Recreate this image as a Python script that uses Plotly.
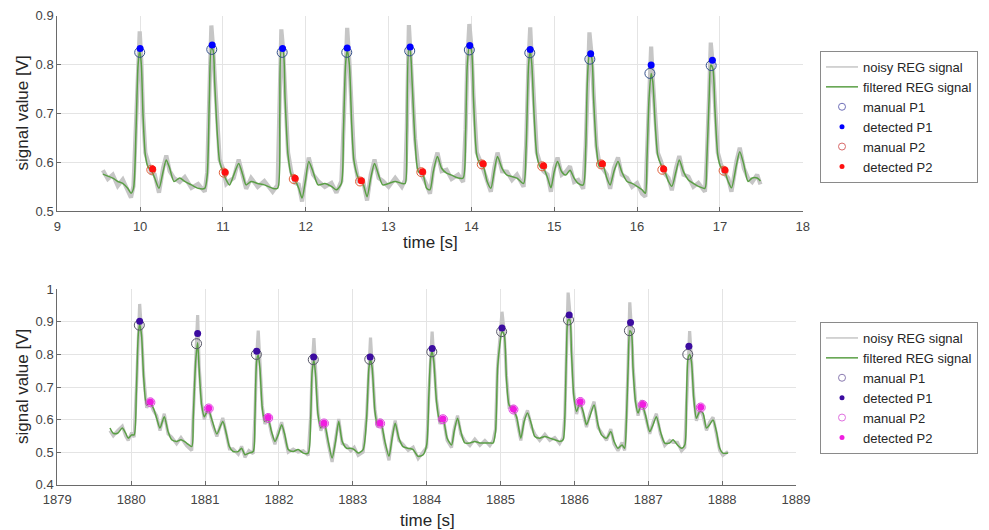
import plotly.graph_objects as go

# ---------------- top panel data ----------------
top_t = [
    9.55, 9.61, 9.67, 9.73, 9.79, 9.85, 9.89, 9.92,
    9.95, 9.975, 9.995, 10.015, 10.035, 10.063, 10.095, 10.135, 10.176, 10.228, 10.277, 10.316, 10.357, 10.409, 10.478, 10.539, 10.619, 10.70, 10.78,
    10.81, 10.836, 10.86, 10.88, 10.90, 10.93, 10.96, 11.00, 11.04, 11.08, 11.13, 11.19, 11.24, 11.28, 11.34, 11.42, 11.50, 11.60, 11.66,
    11.686, 11.705, 11.726, 11.75, 11.786, 11.826, 11.87, 11.915, 11.955, 11.995, 12.036, 12.088, 12.149, 12.23, 12.31, 12.37, 12.43,
    12.455, 12.48, 12.50, 12.527, 12.555, 12.583, 12.635, 12.69, 12.74, 12.785, 12.83, 12.88, 12.93, 13.00, 13.08, 13.16, 13.20,
    13.22, 13.245, 13.26, 13.284, 13.32, 13.36, 13.41, 13.46, 13.50, 13.54, 13.59, 13.64, 13.70, 13.76, 13.84, 13.90,
    13.93, 13.95, 13.975, 14.00, 14.025, 14.065, 14.11, 14.145, 14.19, 14.235, 14.275, 14.315, 14.37, 14.43, 14.49, 14.55, 14.63,
    14.66, 14.69, 14.71, 14.73, 14.757, 14.79, 14.83, 14.87, 14.92, 14.96, 15.00, 15.04, 15.09, 15.14, 15.19, 15.24, 15.29, 15.35,
    15.38, 15.40, 15.425, 15.45, 15.475, 15.51, 15.545, 15.585, 15.635, 15.675, 15.72, 15.77, 15.815, 15.88, 15.94, 16.00, 16.06, 16.10,
    16.12, 16.145, 16.17, 16.19, 16.22, 16.25, 16.29, 16.33, 16.38, 16.42, 16.47, 16.51, 16.56, 16.62, 16.68, 16.74, 16.82,
    16.84, 16.87, 16.89, 16.915, 16.94, 16.975, 17.01, 17.05, 17.10, 17.14, 17.20, 17.24, 17.29, 17.34, 17.39, 17.45, 17.49,
]
top_filtered = [
    0.576, 0.572, 0.568, 0.561, 0.557, 0.547, 0.537, 0.547,
    0.663, 0.799, 0.830, 0.799, 0.697, 0.615, 0.591, 0.584, 0.568, 0.547, 0.581, 0.605, 0.588, 0.561, 0.568, 0.561, 0.554, 0.547, 0.547,
    0.574, 0.731, 0.833, 0.830, 0.765, 0.663, 0.602, 0.581, 0.564, 0.554, 0.574, 0.598, 0.574, 0.554, 0.561, 0.557, 0.554, 0.547, 0.547,
    0.697, 0.830, 0.828, 0.731, 0.615, 0.574, 0.564, 0.547, 0.527, 0.561, 0.602, 0.581, 0.554, 0.557, 0.551, 0.544, 0.557,
    0.663, 0.799, 0.830, 0.799, 0.676, 0.602, 0.568, 0.557, 0.530, 0.568, 0.598, 0.574, 0.554, 0.557, 0.561, 0.557, 0.557,
    0.663, 0.833, 0.830, 0.765, 0.642, 0.581, 0.578, 0.547, 0.544, 0.581, 0.612, 0.588, 0.578, 0.574, 0.568, 0.568,
    0.663, 0.799, 0.837, 0.830, 0.731, 0.615, 0.595, 0.591, 0.561, 0.547, 0.581, 0.612, 0.588, 0.574, 0.571, 0.568, 0.557,
    0.629, 0.799, 0.830, 0.799, 0.697, 0.615, 0.591, 0.588, 0.568, 0.548, 0.581, 0.602, 0.581, 0.574, 0.584, 0.568, 0.557, 0.554,
    0.629, 0.765, 0.820, 0.816, 0.731, 0.629, 0.591, 0.595, 0.568, 0.554, 0.581, 0.602, 0.581, 0.561, 0.557, 0.551, 0.544, 0.537,
    0.608, 0.731, 0.782, 0.765, 0.676, 0.615, 0.595, 0.584, 0.561, 0.551, 0.581, 0.605, 0.581, 0.564, 0.557, 0.551, 0.547,
    0.595, 0.731, 0.799, 0.792, 0.710, 0.615, 0.591, 0.584, 0.561, 0.548, 0.595, 0.622, 0.595, 0.561, 0.568, 0.568, 0.562,
]
top_noisy = [
    0.584, 0.566, 0.575, 0.552, 0.565, 0.540, 0.528, 0.552,
    0.670, 0.812, 0.868, 0.805, 0.700, 0.620, 0.598, 0.578, 0.575, 0.538, 0.588, 0.614, 0.582, 0.568, 0.560, 0.570, 0.548, 0.556, 0.540,
    0.580, 0.740, 0.880, 0.836, 0.770, 0.668, 0.606, 0.588, 0.556, 0.562, 0.568, 0.606, 0.568, 0.546, 0.568, 0.550, 0.562, 0.540, 0.554,
    0.702, 0.872, 0.832, 0.736, 0.620, 0.580, 0.558, 0.555, 0.520, 0.568, 0.610, 0.575, 0.562, 0.550, 0.558, 0.538, 0.562,
    0.668, 0.805, 0.875, 0.804, 0.680, 0.608, 0.562, 0.564, 0.522, 0.575, 0.606, 0.568, 0.562, 0.550, 0.568, 0.550, 0.564,
    0.668, 0.881, 0.836, 0.770, 0.648, 0.588, 0.572, 0.554, 0.536, 0.588, 0.620, 0.582, 0.585, 0.566, 0.575, 0.560,
    0.668, 0.805, 0.883, 0.836, 0.736, 0.620, 0.602, 0.585, 0.568, 0.540, 0.588, 0.620, 0.582, 0.581, 0.564, 0.575, 0.550,
    0.634, 0.805, 0.876, 0.805, 0.702, 0.620, 0.598, 0.582, 0.575, 0.540, 0.588, 0.610, 0.575, 0.581, 0.592, 0.560, 0.564, 0.546,
    0.634, 0.770, 0.866, 0.822, 0.736, 0.634, 0.598, 0.589, 0.575, 0.546, 0.588, 0.610, 0.575, 0.568, 0.550, 0.558, 0.536, 0.530,
    0.614, 0.736, 0.837, 0.770, 0.680, 0.620, 0.602, 0.578, 0.568, 0.543, 0.588, 0.613, 0.575, 0.571, 0.550, 0.558, 0.540,
    0.600, 0.736, 0.845, 0.798, 0.715, 0.620, 0.598, 0.578, 0.568, 0.540, 0.602, 0.630, 0.588, 0.568, 0.560, 0.575, 0.555,
]
top_p1_t = [10.0, 10.87, 11.72, 12.50, 13.26, 13.98, 14.71, 15.44, 16.17, 16.91]
top_p1_detected = [0.833, 0.840, 0.833, 0.834, 0.836, 0.839, 0.831, 0.822, 0.799, 0.809]
top_p1_manual_t = [9.995, 10.865, 11.715, 12.495, 13.255, 13.975, 14.705, 15.43, 16.155, 16.895]
top_p1_manual = [0.825, 0.831, 0.825, 0.825, 0.828, 0.830, 0.824, 0.811, 0.782, 0.798]
top_p2_t = [10.15, 11.025, 11.87, 12.67, 13.41, 14.14, 14.87, 15.58, 16.32, 17.06]
top_p2_detected = [0.5865, 0.580, 0.5675, 0.5626, 0.581, 0.597, 0.593, 0.597, 0.5865, 0.5845]
top_p2_manual_t = [10.135, 11.01, 11.855, 12.655, 13.395, 14.125, 14.855, 15.565, 16.305, 17.045]
top_p2_manual = [0.585, 0.579, 0.566, 0.561, 0.580, 0.596, 0.592, 0.596, 0.585, 0.583]

# ---------------- bottom panel data ----------------
bot_t = [
    1879.713, 1879.758, 1879.817, 1879.88, 1879.925, 1879.96, 1880.007, 1880.04,
    1880.07, 1880.096, 1880.115, 1880.14, 1880.17, 1880.21, 1880.254, 1880.30, 1880.345, 1880.39, 1880.448, 1880.50, 1880.548, 1880.615, 1880.674, 1880.75, 1880.82,
    1880.84, 1880.873, 1880.90, 1880.92, 1880.954, 1880.99, 1881.043, 1881.10, 1881.16, 1881.24, 1881.29, 1881.33, 1881.38, 1881.45, 1881.495, 1881.54, 1881.594, 1881.652,
    1881.675, 1881.698, 1881.72, 1881.743, 1881.775, 1881.81, 1881.855, 1881.90, 1881.946, 1881.99, 1882.037, 1882.08, 1882.126, 1882.193, 1882.26, 1882.33, 1882.396,
    1882.43, 1882.45, 1882.474, 1882.496, 1882.53, 1882.568, 1882.613, 1882.667, 1882.72, 1882.767, 1882.81, 1882.857, 1882.916, 1882.974, 1883.02, 1883.073, 1883.14,
    1883.187, 1883.218, 1883.24, 1883.263, 1883.30, 1883.335, 1883.376, 1883.434, 1883.49, 1883.533, 1883.574, 1883.624, 1883.68, 1883.75, 1883.817, 1883.885, 1883.953, 1884.0,
    1884.03, 1884.053, 1884.074, 1884.097, 1884.134, 1884.18, 1884.223, 1884.277, 1884.337, 1884.372, 1884.418, 1884.463, 1884.517, 1884.585, 1884.652, 1884.72, 1884.788, 1884.855, 1884.9,
    1884.932, 1884.96, 1884.99, 1885.02, 1885.05, 1885.08, 1885.116, 1885.17, 1885.217, 1885.275, 1885.32, 1885.365, 1885.42, 1885.464, 1885.53, 1885.60, 1885.667, 1885.735, 1885.80, 1885.847,
    1885.87, 1885.893, 1885.915, 1885.938, 1885.96, 1885.992, 1886.03, 1886.073, 1886.118, 1886.164, 1886.208, 1886.267, 1886.32, 1886.367, 1886.434, 1886.493, 1886.537, 1886.59, 1886.645, 1886.68,
    1886.705, 1886.727, 1886.75, 1886.773, 1886.794, 1886.827, 1886.862, 1886.908, 1886.962, 1887.02, 1887.065, 1887.11, 1887.165, 1887.223, 1887.29, 1887.335, 1887.395, 1887.45, 1887.494,
    1887.517, 1887.538, 1887.56, 1887.585, 1887.616, 1887.652, 1887.697, 1887.74, 1887.788, 1887.83, 1887.877, 1887.923, 1887.967, 1888.01, 1888.08,
]
bot_filtered = [
    0.574, 0.558, 0.558, 0.574, 0.558, 0.543, 0.553, 0.553,
    0.686, 0.860, 0.893, 0.860, 0.727, 0.645, 0.650, 0.635, 0.604, 0.574, 0.609, 0.563, 0.538, 0.533, 0.538, 0.528, 0.517,
    0.604, 0.778, 0.836, 0.757, 0.645, 0.609, 0.630, 0.594, 0.556, 0.594, 0.555, 0.517, 0.502, 0.502, 0.512, 0.492, 0.497, 0.502,
    0.604, 0.778, 0.798, 0.757, 0.635, 0.594, 0.599, 0.563, 0.533, 0.553, 0.584, 0.553, 0.508, 0.502, 0.508, 0.497, 0.497,
    0.604, 0.747, 0.783, 0.737, 0.614, 0.574, 0.589, 0.533, 0.482, 0.533, 0.594, 0.533, 0.512, 0.512, 0.508, 0.497, 0.508,
    0.604, 0.757, 0.786, 0.757, 0.625, 0.584, 0.594, 0.533, 0.487, 0.543, 0.589, 0.543, 0.517, 0.512, 0.508, 0.487, 0.492, 0.522,
    0.674, 0.788, 0.810, 0.778, 0.655, 0.594, 0.599, 0.543, 0.522, 0.563, 0.604, 0.563, 0.528, 0.528, 0.533, 0.528, 0.528, 0.528, 0.528,
    0.563, 0.757, 0.829, 0.870, 0.860, 0.727, 0.645, 0.630, 0.609, 0.543, 0.594, 0.620, 0.584, 0.548, 0.543, 0.548, 0.543, 0.538, 0.533, 0.538,
    0.604, 0.808, 0.906, 0.906, 0.808, 0.674, 0.625, 0.650, 0.625, 0.584, 0.609, 0.645, 0.584, 0.553, 0.543, 0.563, 0.533, 0.512, 0.522, 0.512,
    0.604, 0.757, 0.873, 0.865, 0.757, 0.655, 0.620, 0.650, 0.614, 0.563, 0.584, 0.609, 0.563, 0.528, 0.528, 0.538, 0.522, 0.512, 0.522,
    0.655, 0.788, 0.800, 0.778, 0.665, 0.604, 0.625, 0.620, 0.574, 0.584, 0.599, 0.563, 0.512, 0.497, 0.497,
]
bot_noisy = [
    0.566, 0.550, 0.566, 0.580, 0.550, 0.536, 0.560, 0.546,
    0.690, 0.880, 0.955, 0.870, 0.732, 0.636, 0.658, 0.628, 0.612, 0.566, 0.618, 0.556, 0.546, 0.526, 0.545, 0.520, 0.505,
    0.610, 0.790, 0.921, 0.765, 0.650, 0.600, 0.640, 0.586, 0.548, 0.605, 0.548, 0.510, 0.510, 0.494, 0.518, 0.484, 0.505, 0.495,
    0.610, 0.790, 0.873, 0.765, 0.642, 0.586, 0.606, 0.556, 0.524, 0.560, 0.592, 0.546, 0.500, 0.509, 0.500, 0.504, 0.490,
    0.610, 0.760, 0.850, 0.745, 0.620, 0.566, 0.596, 0.526, 0.470, 0.540, 0.602, 0.526, 0.520, 0.504, 0.515, 0.490, 0.500,
    0.610, 0.770, 0.852, 0.765, 0.632, 0.576, 0.602, 0.526, 0.475, 0.550, 0.597, 0.536, 0.524, 0.505, 0.515, 0.480, 0.499, 0.515,
    0.680, 0.800, 0.870, 0.785, 0.660, 0.586, 0.607, 0.536, 0.514, 0.570, 0.612, 0.556, 0.535, 0.520, 0.540, 0.521, 0.536, 0.520, 0.535,
    0.570, 0.765, 0.845, 0.931, 0.868, 0.734, 0.638, 0.640, 0.602, 0.536, 0.602, 0.628, 0.577, 0.555, 0.536, 0.555, 0.536, 0.545, 0.526, 0.545,
    0.610, 0.820, 0.990, 0.930, 0.815, 0.680, 0.617, 0.660, 0.618, 0.577, 0.617, 0.655, 0.576, 0.560, 0.536, 0.571, 0.525, 0.504, 0.530, 0.505,
    0.610, 0.770, 0.960, 0.875, 0.765, 0.662, 0.612, 0.660, 0.607, 0.556, 0.592, 0.618, 0.556, 0.520, 0.536, 0.530, 0.530, 0.504, 0.515,
    0.660, 0.800, 0.872, 0.785, 0.672, 0.596, 0.633, 0.612, 0.567, 0.592, 0.607, 0.556, 0.505, 0.490, 0.502,
]
bot_p1_t = [1880.115, 1880.90, 1881.70, 1882.47, 1883.235, 1884.075, 1885.02, 1885.93, 1886.76, 1887.55]
bot_p1_detected = [0.902, 0.864, 0.810, 0.792, 0.792, 0.818, 0.881, 0.921, 0.898, 0.825]
bot_p1_manual_t = [1880.11, 1880.885, 1881.695, 1882.465, 1883.23, 1884.07, 1885.015, 1885.92, 1886.745, 1887.535]
bot_p1_manual = [0.890, 0.833, 0.800, 0.784, 0.785, 0.808, 0.870, 0.906, 0.873, 0.800]
bot_p2_t = [1880.26, 1881.05, 1881.855, 1882.61, 1883.37, 1884.22, 1885.175, 1886.08, 1886.925, 1887.71]
bot_p2_detected = [0.654, 0.635, 0.606, 0.589, 0.589, 0.602, 0.632, 0.655, 0.646, 0.638]
bot_p2_manual = [0.653, 0.634, 0.605, 0.588, 0.588, 0.601, 0.631, 0.654, 0.645, 0.637]

top_xticks = [9, 10, 11, 12, 13, 14, 15, 16, 17, 18]
top_yticks = [0.5, 0.6, 0.7, 0.8, 0.9]
top_ytick_labels = ["0.5", "0.6", "0.7", "0.8", "0.9"]
bot_xticks = [1879, 1880, 1881, 1882, 1883, 1884, 1885, 1886, 1887, 1888, 1889]
bot_yticks = [0.4, 0.5, 0.6, 0.7, 0.8, 0.9, 1.0]
bot_ytick_labels = ["0.4", "0.5", "0.6", "0.7", "0.8", "0.9", "1"]

# page body has an 8px margin: the figure is sized to fill the rest of the window
OFF = 8
W, H = 989 - OFF, 530 - OFF


def fx(px):
    return (px - OFF) / W


def fy(py):
    return 1 - (py - OFF) / H


NOISY = "#c6c6c6"
GREEN = "#5a9f45"
FONT = "Liberation Sans, Arial, Helvetica, sans-serif"

fig = go.Figure()


def add_panel(xa, ya, leg, t, noisy, filt, noisy_w, p1_mt, p1_m, p1_t, p1_d, p2_mt, p2_m, p2_t, p2_d,
              c_p1m, c_p1d, c_p2m, c_p2d, c_p1m_leg, c_p2m_leg):
    fig.add_trace(go.Scatter(x=t, y=noisy, mode="lines", line=dict(color=NOISY, width=noisy_w),
                             xaxis=xa, yaxis=ya, showlegend=False, hoverinfo="skip"))
    fig.add_trace(go.Scatter(x=t, y=filt, mode="lines",
                             line=dict(color=GREEN, width=1.5, shape="spline", smoothing=0.7),
                             xaxis=xa, yaxis=ya, showlegend=False))
    fig.add_trace(go.Scatter(x=p2_mt, y=p2_m, mode="markers",
                             marker=dict(symbol="circle-open", size=9, color=c_p2m, line=dict(width=1)),
                             xaxis=xa, yaxis=ya, showlegend=False))
    fig.add_trace(go.Scatter(x=p2_t, y=p2_d, mode="markers",
                             marker=dict(symbol="circle", size=7, color=c_p2d),
                             xaxis=xa, yaxis=ya, showlegend=False))
    fig.add_trace(go.Scatter(x=p1_mt, y=p1_m, mode="markers",
                             marker=dict(symbol="circle-open", size=10, color=c_p1m, line=dict(width=1)),
                             xaxis=xa, yaxis=ya, showlegend=False))
    fig.add_trace(go.Scatter(x=p1_t, y=p1_d, mode="markers",
                             marker=dict(symbol="circle", size=7, color=c_p1d),
                             xaxis=xa, yaxis=ya, showlegend=False))
    entries = [
        ("noisy REG signal", dict(mode="lines", line=dict(color=NOISY, width=1.5))),
        ("filtered REG signal", dict(mode="lines", line=dict(color=GREEN, width=1.5))),
        ("manual P1", dict(mode="markers", marker=dict(symbol="circle-open", size=7, color=c_p1m_leg, line=dict(width=1)))),
        ("detected P1", dict(mode="markers", marker=dict(symbol="circle", size=5, color=c_p1d))),
        ("manual P2", dict(mode="markers", marker=dict(symbol="circle-open", size=7, color=c_p2m_leg, line=dict(width=1)))),
        ("detected P2", dict(mode="markers", marker=dict(symbol="circle", size=5, color=c_p2d))),
    ]
    for name, kw in entries:
        fig.add_trace(go.Scatter(x=[None], y=[None], name=name, xaxis=xa, yaxis=ya,
                                 legend=leg, showlegend=True, **kw))


add_panel("x", "y", "legend", top_t, top_noisy, top_filtered, 4.2,
          top_p1_manual_t, top_p1_manual, top_p1_t, top_p1_detected,
          top_p2_manual_t, top_p2_manual, top_p2_t, top_p2_detected,
          "#34508a", "#0000ff", "#e0603a", "#ff1010", "#6f6fb8", "#d86a6a")
add_panel("x2", "y2", "legend2", bot_t, bot_noisy, bot_filtered, 3.2,
          bot_p1_manual_t, bot_p1_manual, bot_p1_t, bot_p1_detected,
          bot_p2_t, bot_p2_manual, bot_p2_t, bot_p2_detected,
          "#555566", "#3c0ca0", "#e040e0", "#f01ee0", "#8a7ab0", "#e070e0")

axis_common = dict(showgrid=True, gridcolor="#e4e4e4", gridwidth=1, zeroline=False,
                   showline=True, linecolor="#6a6a6a", linewidth=1,
                   ticks="inside", ticklen=4, tickcolor="#6a6a6a",
                   tickfont=dict(family=FONT, size=13, color="#444444"))

legend_common = dict(xanchor="left", yanchor="top", bgcolor="white",
                     bordercolor="#8a8a8a", borderwidth=1, itemwidth=32,
                     font=dict(family=FONT, size=13, color="#262626"), tracegroupgap=0)

fig.update_layout(
    width=W, height=H,
    margin=dict(l=0, r=0, t=0, b=0, autoexpand=False),
    paper_bgcolor="white", plot_bgcolor="white",
    font=dict(family=FONT, color="#262626"),
    xaxis=dict(domain=[fx(57.3), fx(802.7)], range=[9, 18], tickvals=top_xticks,
               anchor="y", ticklabelstandoff=3, **axis_common),
    yaxis=dict(domain=[fy(211.3), fy(15.7)], range=[0.5, 0.9], tickvals=top_yticks,
               ticktext=top_ytick_labels, anchor="x", **axis_common),
    xaxis2=dict(domain=[fx(57.3), fx(796)], range=[1879, 1889], tickvals=bot_xticks,
                anchor="y2", ticklabelstandoff=3, **axis_common),
    yaxis2=dict(domain=[fy(484.7), fy(289.3)], range=[0.4, 1.0], tickvals=bot_yticks,
                ticktext=bot_ytick_labels, anchor="x2", **axis_common),
    legend=dict(x=fx(820), y=fy(51), **legend_common),
    legend2=dict(x=fx(820), y=fy(322), **legend_common),
    showlegend=True,
)

annots = [
    dict(text="time [s]", x=fx(430), y=fy(242)),
    dict(text="time [s]", x=fx(427), y=fy(520)),
    dict(text="signal value [V]", x=fx(22), y=fy(113.5), textangle=-90),
    dict(text="signal value [V]", x=fx(22), y=fy(387), textangle=-90),
]
for a in annots:
    fig.add_annotation(xref="paper", yref="paper", xanchor="center", yanchor="middle",
                       showarrow=False, font=dict(family=FONT, size=17, color="#262626"), **a)

fig.write_html("out.html")
